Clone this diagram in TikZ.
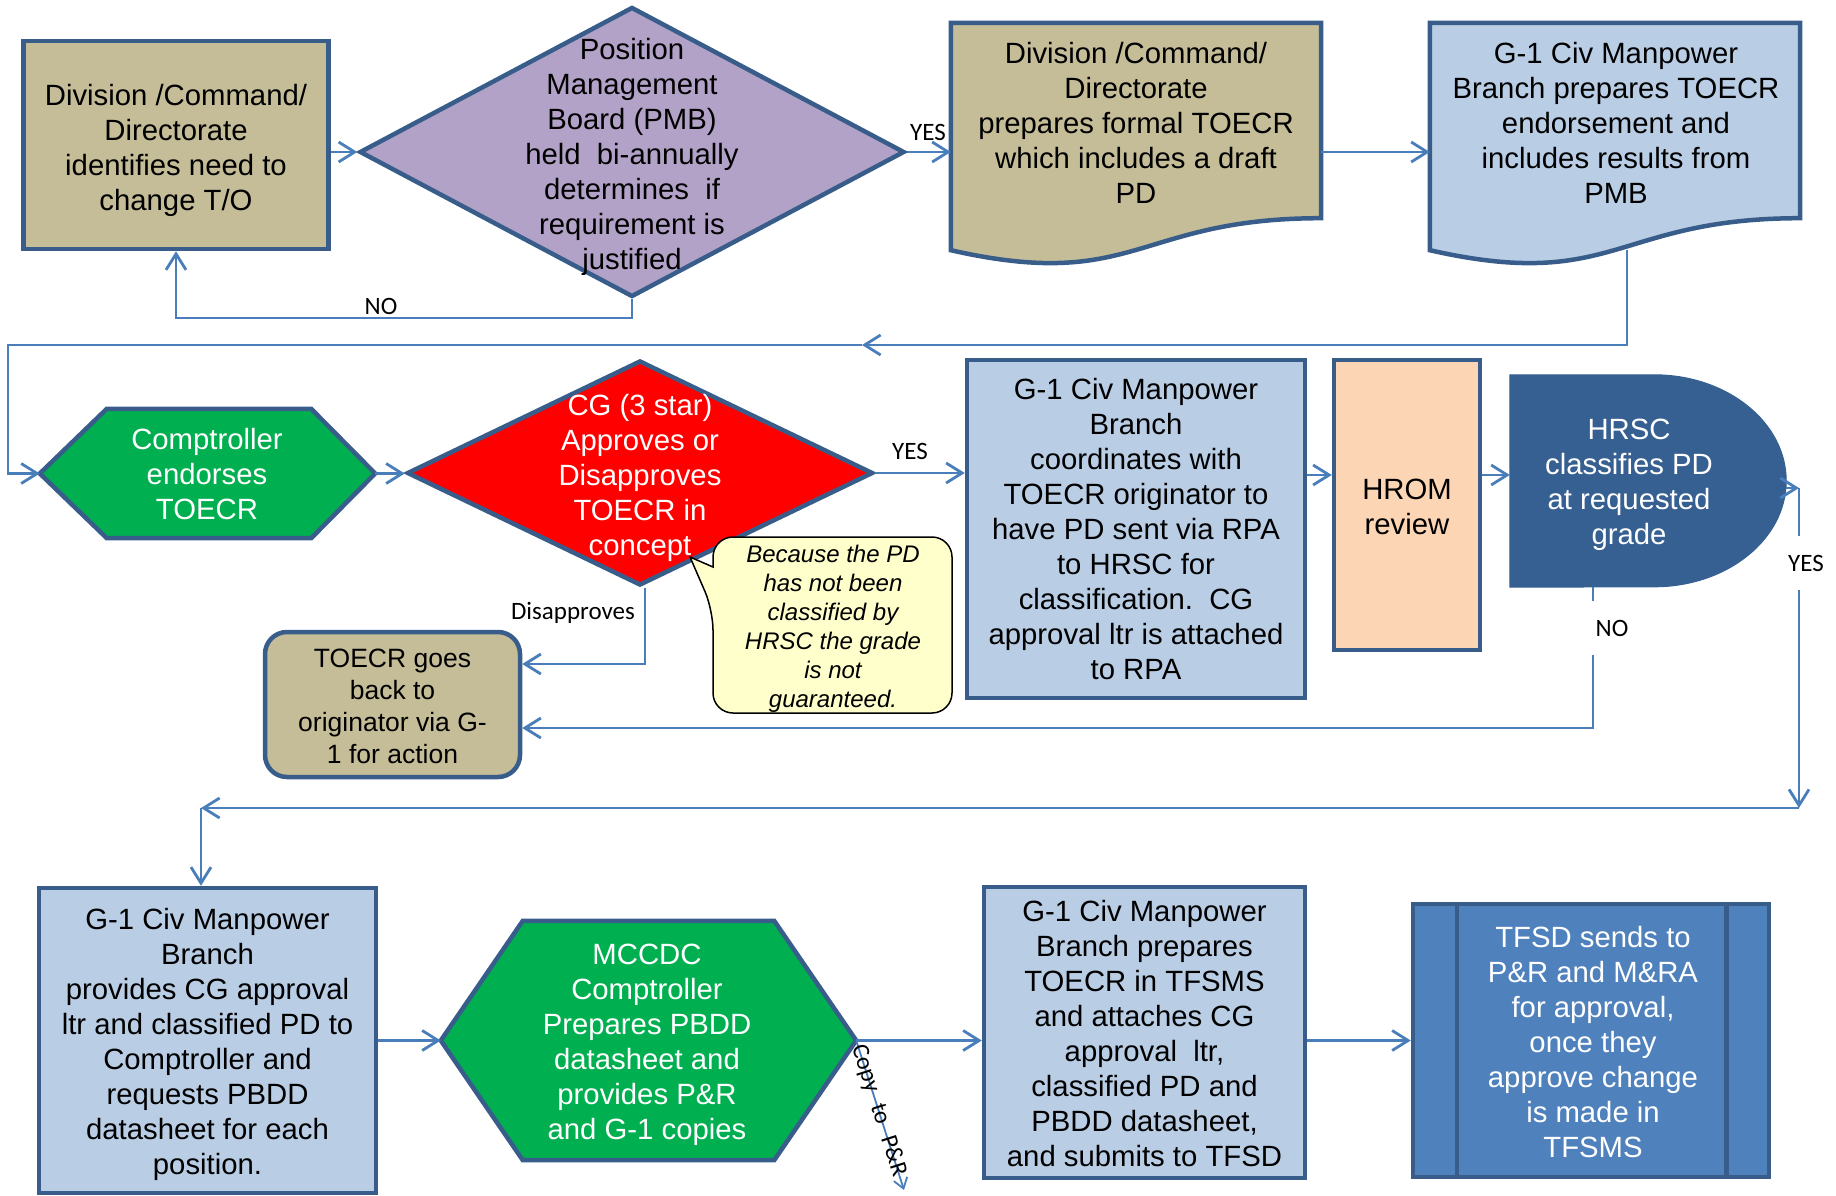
\documentclass[tikz,border=0pt]{standalone}
\usepackage{fontspec}
\setmainfont{Liberation Sans}
\newfontfamily\lblfont{Carlito}
\usetikzlibrary{arrows.meta,shapes.geometric,calc}
\definecolor{bord}{HTML}{385D8A}
\definecolor{lnk}{HTML}{4A7EBB}
\definecolor{tanc}{HTML}{C4BD97}
\definecolor{purp}{HTML}{B3A2C7}
\definecolor{ltb}{HTML}{B9CDE5}
\definecolor{grn}{HTML}{00B050}
\definecolor{peach}{HTML}{FCD5B5}
\definecolor{dkb}{HTML}{376092}
\definecolor{medb}{HTML}{4F81BD}
\definecolor{cream}{HTML}{FFFFCC}
\tikzset{
  shp/.style={draw=bord, line width=4.5pt},
  txt/.style={align=center, font=\fontsize{29.3}{35}\selectfont, inner sep=0pt},
  wtxt/.style={txt, text=white},
  frame/.style={inner sep=0pt},
  conn/.style={draw=lnk, line width=2.8pt, -{Straight Barb[length=16pt,width=20pt]}},
  lbl/.style={font=\lblfont\fontsize{25}{30}\selectfont, inner sep=1pt},
}
\begin{document}
\begin{tikzpicture}[x=1pt,y=-1pt]
\useasboundingbox (0,0) rectangle (1836,1196);

% ---------- top row ----------
\node[shp, fill=tanc, minimum width=305pt, minimum height=208pt, inner sep=0pt] (ida) at (176,145) {};
\node[txt] (idat) at (176,150)
  {Division /Command/\\Directorate\\identifies need to\\change T/O};

\node[shp, diamond, fill=purp, minimum width=545pt, minimum height=290pt, inner sep=0pt] (pmb) at (632,152) {};
\node[txt] (pmbt) at (632,157)
  {Position\\Management\\Board (PMB)\\held\ \ bi-annually\\determines\ \ if\\requirement is\\justified};

\node[frame, minimum width=370pt, minimum height=195pt] (docB) at (1136,120.5) {};
\filldraw[shp, fill=tanc] (docB.north west) -- (docB.north east) -- (docB.south east)
  .. controls (docB.south) and ($(docB.south)+(0,74)$) .. ($(docB.south west)+(0,32)$) -- cycle;
\node[txt] (docBt) at (1136,123)
  {Division /Command/\\Directorate\\prepares formal TOECR\\which includes a draft\\PD};

\node[frame, minimum width=370pt, minimum height=195pt] (docC) at (1615,120.5) {};
\filldraw[shp, fill=ltb] (docC.north west) -- (docC.north east) -- (docC.south east)
  .. controls (docC.south) and ($(docC.south)+(0,74)$) .. ($(docC.south west)+(0,32)$) -- cycle;
\node[txt] (docCt) at (1616,123)
  {G-1 Civ Manpower\\Branch prepares TOECR\\endorsement and\\includes results from\\PMB};

% ---------- middle row ----------
\node[frame, minimum width=335pt, minimum height=129pt] (cmp) at (207.5,473.5) {};
\filldraw[shp, fill=grn] (cmp.west) -- ($(cmp.north west)+(67,0)$) -- ($(cmp.north east)+(-64,0)$)
  -- (cmp.east) -- ($(cmp.south east)+(-64,0)$) -- ($(cmp.south west)+(67,0)$) -- cycle;
\node[wtxt] (cmpt) at (207,474) {Comptroller\\endorses\\TOECR};

\node[shp, diamond, fill=red, minimum width=466pt, minimum height=225pt, inner sep=0pt] (cg) at (640,473) {};
\node[wtxt] (cgt) at (640,477.5) {CG (3 star)\\Approves or\\Disapproves\\TOECR in\\concept};

\node[shp, fill=tanc, rounded corners=22pt, minimum width=255pt, minimum height=145pt, inner sep=0pt] (tgb) at (392.5,704.5) {};
\node[txt, font=\fontsize{26.5}{32}\selectfont] (tgbt) at (392.5,706)
  {TOECR goes\\back to\\originator via G-\\1 for action};

\filldraw[draw=black, fill=cream, line width=1.5pt] (713,610) -- (690,557) -- (713,567)
  [rounded corners=20pt] -- (713,537) -- (952,537) -- (952,713) -- (713,713) -- cycle;
\node[align=center, inner sep=0pt, font=\fontsize{24}{29}\selectfont\itshape] (note) at (833,628.5)
  {Because the PD\\has not been\\classified by\\HRSC the grade\\is not\\guaranteed.};

\node[shp, txt, fill=ltb, minimum width=338pt, minimum height=338pt] (crd) at (1136,529)
  {G-1 Civ Manpower\\Branch\\coordinates with\\TOECR originator to\\have PD sent via RPA\\to HRSC for\\classification.\ \ CG\\approval ltr is attached\\to RPA};

\node[shp, fill=peach, minimum width=146pt, minimum height=290pt, inner sep=0pt] (hrom) at (1407,505) {};
\node[txt] (hromt) at (1407,507) {HROM\\review};

\node[frame, minimum width=276pt, minimum height=212pt] (hrsc) at (1648,481) {};
\filldraw[draw=dkb, fill=dkb, line width=1pt] (hrsc.north west) -- ($(hrsc.north east)+(-132,0)$)
  arc[start angle=90, end angle=-90, x radius=132pt, y radius=106pt] -- (hrsc.south west) -- cycle;
\node[wtxt] (hrsct) at (1629,484.5) {HRSC\\classifies PD\\at requested\\grade};

% ---------- bottom row ----------
\node[shp, fill=ltb, minimum width=337pt, minimum height=305pt, inner sep=0pt] (g1c) at (207.5,1040.5) {};
\node[txt] (g1ct) at (207.5,1044)
  {G-1 Civ Manpower\\Branch\\provides CG approval\\ltr and classified PD to\\Comptroller and\\requests PBDD\\datasheet for each\\position.};

\node[frame, minimum width=415pt, minimum height=239pt] (mcc) at (648.5,1040.5) {};
\filldraw[shp, fill=grn] (mcc.west) -- ($(mcc.north west)+(82,0)$) -- ($(mcc.north east)+(-82,0)$)
  -- (mcc.east) -- ($(mcc.south east)+(-82,0)$) -- ($(mcc.south west)+(82,0)$) -- cycle;
\node[wtxt] (mcct) at (647,1045)
  {MCCDC\\Comptroller\\Prepares PBDD\\datasheet and\\provides P\&R\\and G-1 copies};

\node[shp, fill=ltb, minimum width=321pt, minimum height=291pt, inner sep=0pt] (g1d) at (1144.5,1032.5) {};
\node[txt] (g1dt) at (1144.5,1034)
  {G-1 Civ Manpower\\Branch prepares\\TOECR in TFSMS\\and attaches CG\\approval\ \ ltr,\\classified PD and\\PBDD datasheet,\\and submits to TFSD};

\node[shp, fill=medb, minimum width=356pt, minimum height=273pt, inner sep=0pt] (tfsd) at (1591,1040.5) {};
\draw[shp] ($(tfsd.north west)+(46,0)$) -- ($(tfsd.south west)+(46,0)$);
\draw[shp] ($(tfsd.north east)+(-45,0)$) -- ($(tfsd.south east)+(-45,0)$);
\node[wtxt] (tfsdt) at (1593,1042.5)
  {TFSD sends to\\P\&R and M\&RA\\for approval,\\once they\\approve change\\is made in\\TFSMS};

% ---------- connectors ----------
\draw[conn] (ida.east |- pmb.west) -- (pmb.west);
\coordinate (noturn) at (632,318);
\draw[conn] (pmb.south) -- (noturn) -| (ida.south);
\node[lbl] (no1) at (381,306) {NO};
\draw[conn] (pmb.east) -- (pmb.east -| docB.west);
\node[lbl] (yes1) at (928,132) {YES};
\draw[conn] (docB.east |- pmb.east) -- (docC.west |- pmb.east);

\coordinate (cout) at (1627,250);
\coordinate (c1) at (1627,345);
\coordinate (cmid) at (862,345);
\coordinate (c2) at (8,345);
\draw[conn] (cout) -- (c1) -- (cmid);
\draw[conn] (cmid) -- (c2) |- (cmp.west);

\draw[conn] (cmp.east) -- (cmp.east -| cg.west);
\draw[conn] (cg.east) -- (cg.east -| crd.west);
\node[lbl] (yes2) at (910,451) {YES};
\coordinate (dturn) at (645,664);
\draw[conn] (dturn |- cg.south) -- (dturn) -- (dturn -| tgb.east);
\node[lbl] (dis) at (573,613) {Disapproves};

\coordinate (rowy) at (0,475);
\draw[conn] (crd.east |- rowy) -- (hrom.west |- rowy);
\draw[conn] (hrom.east |- rowy) -- (hrsc.west |- rowy);

\coordinate (nturn) at (1593,728);
\draw[conn] (nturn |- hrsc.south) -- (nturn) -- (nturn -| tgb.east);
\node[lbl, fill=white, minimum width=50pt, minimum height=54pt] (no2) at (1612,628) {NO};

\coordinate (yturn) at (1799,488);
\coordinate (ycorner) at (1799,808);
\coordinate (yleft) at (201,808);
\draw[conn] (hrsc.east |- yturn) -- (yturn);
\draw[conn] (yturn) -- (ycorner);
\node[lbl, fill=white, minimum height=54pt] (yes3) at (1806,563) {YES};
\draw[conn] (ycorner) -- (yleft);
\draw[conn] (yleft) -- (yleft |- g1c.north);

\draw[conn] (g1c.east) -- (mcc.west);
\draw[conn] (mcc.east) -- (mcc.east -| g1d.west);
\draw[conn] (g1d.east |- tfsd.west) -- (tfsd.west);

\coordinate (cpy) at (904,1190);
\draw[draw=lnk, line width=1.8pt, -{Straight Barb[length=10pt,width=14pt]}] (mcc.east) --
  node[sloped, pos=0.47, inner sep=0pt, font=\lblfont\fontsize{24}{28}\selectfont, text=black]
  {Copy\hspace{13pt}to\hspace{13pt}P\&R} (cpy);
\end{tikzpicture}
\end{document}
